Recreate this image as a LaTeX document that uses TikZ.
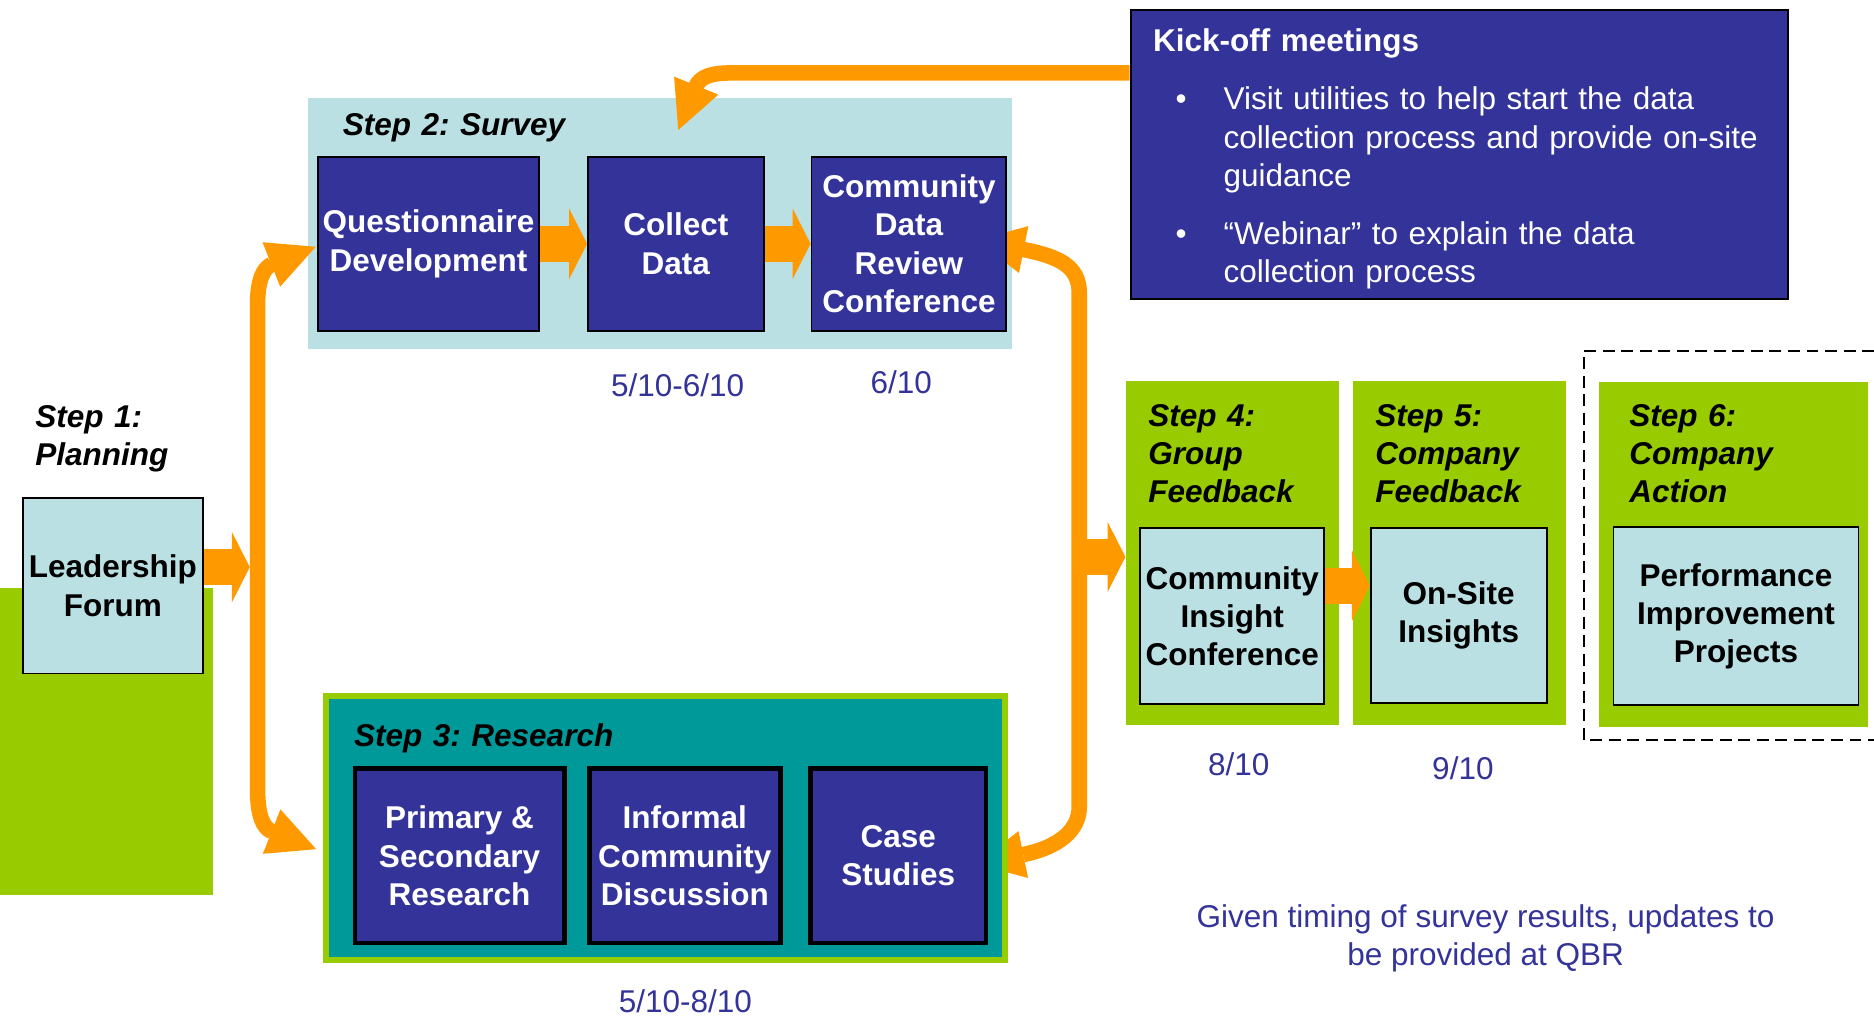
\documentclass[tikz,border=0pt]{standalone}
\usepackage{fontspec}
\setmainfont{Liberation Sans}
\usetikzlibrary{arrows.meta}
\definecolor{vnavy}{HTML}{333399}
\definecolor{vpale}{HTML}{BBE0E3}
\definecolor{vlime}{HTML}{99CC00}
\definecolor{vteal}{HTML}{009999}
\definecolor{vorange}{HTML}{FF9900}
\newcommand{\dfont}{\fontsize{15}{18.2}\selectfont}
\pgfdeclarelayer{back}
\pgfdeclarelayer{mid}
\pgfsetlayers{back,mid,main}
\tikzset{
  flowtip/.tip={Triangle[width=0.8cm,length=0.8cm,line width=0pt]},
  bigtip/.tip={Triangle[width=1.18cm,length=0.3cm,line width=0pt]},
  flow/.style={draw=vorange, line width=0.26cm},
  bigflow/.style={draw=vorange, line width=0.6cm, -bigtip},
  navybox/.style={draw=black, line width=0.9pt, fill=vnavy, text=white, font=\dfont\bfseries, align=center, inner sep=0pt},
  navythick/.style={navybox, line width=0.08cm},
  palebox/.style={draw=black, line width=0.9pt, fill=vpale, text=black, font=\dfont\bfseries, align=center, inner sep=0pt},
  stepbg/.style={fill=vlime, inner sep=0pt},
  steptitle/.style={font=\dfont\bfseries\itshape, text width=5cm, align=left, anchor=base west, inner sep=0pt},
  datelabel/.style={font=\dfont, text=vnavy, inner sep=0pt}
}
\begin{document}
\frenchspacing
\begin{tikzpicture}
	\useasboundingbox (0,0) rectangle (31.36,-17);
	\begin{pgfonlayer}{back}
		\fill[vlime] (0,-9.84) rectangle (3.56,-14.98);
		\node[fill=vpale, inner sep=0pt, minimum width=11.78cm, minimum height=4.2cm] (s2) at (11.05,-3.74) {};
		\node[stepbg, minimum width=3.56cm, minimum height=5.76cm] (s4) at (20.62,-9.26) {};
		\node[stepbg, minimum width=3.56cm, minimum height=5.76cm] (s5) at (24.42,-9.26) {};
		\node[stepbg, minimum width=4.5cm, minimum height=5.76cm] (s6) at (29.01,-9.28) {};
		\draw[black, line width=0.9pt, dash pattern=on 0.2cm off 0.11cm] (31.36,-5.88) -- (26.5,-5.88) -- (26.5,-12.38) -- (31.36,-12.38);
	\end{pgfonlayer}

	\node[steptitle] (s1t) at (0.586,-7.15) {Step 1:\\Planning};
	\node[palebox, minimum width=3.02cm, minimum height=2.94cm] (lf) at (1.89,-9.8) {Leadership\\Forum};

	\node[steptitle] (s2t) at (5.73,-2.26) {Step 2: Survey};
	\node[navybox, minimum width=3.7cm, minimum height=2.92cm] (qdev) at (7.17,-4.08) {Questionnaire\\Development};
	\node[navybox, minimum width=2.94cm, minimum height=2.92cm] (coll) at (11.31,-4.08) {Collect\\Data};
	\node[navybox, minimum width=3.26cm, minimum height=2.92cm] (cdrc) at (15.21,-4.08) {Community\\Data\\Review\\Conference};
	\node[datelabel] (d2a) at (11.34,-6.44) {5/10-6/10};
	\node[datelabel] (d2b) at (15.08,-6.4) {6/10};

	\node[navybox, minimum width=11cm, minimum height=4.84cm] (kick) at (24.42,-2.58) {};
	\node[font=\dfont, text=white, text width=10.6cm, align=left, anchor=base west, inner sep=0pt] (kickt) at (19.29,-0.864) {\textbf{Kick-off meetings}\\[0.336cm]
		\hspace*{0.377cm}\makebox[0.803cm][l]{\textbullet}Visit utilities to help start the data\\
		\hspace*{1.18cm}collection process and provide on-site\\
		\hspace*{1.18cm}guidance\\[0.336cm]
		\hspace*{0.377cm}\makebox[0.803cm][l]{\textbullet}“Webinar” to explain the data\\
		\hspace*{1.18cm}collection process};

	\node[draw=vlime, line width=0.1cm, fill=vteal, inner sep=0pt, minimum width=11.36cm, minimum height=4.42cm] (s3) at (11.13,-13.86) {};
	\node[steptitle] (s3t) at (5.92,-12.5) {Step 3: Research};
	\node[navythick, minimum width=3.5cm, minimum height=2.92cm] (prim) at (7.69,-14.32) {Primary \&\\Secondary\\Research};
	\node[navythick, minimum width=3.2cm, minimum height=2.92cm] (inf) at (11.46,-14.32) {Informal\\Community\\Discussion};
	\node[navythick, minimum width=2.94cm, minimum height=2.92cm] (case) at (15.03,-14.32) {Case\\Studies};
	\node[datelabel] (d3) at (11.47,-16.75) {5/10-8/10};

	\node[steptitle] (s4t) at (19.21,-7.13) {Step 4:\\Group\\Feedback};
	\node[steptitle] (s5t) at (23.01,-7.13) {Step 5:\\Company\\Feedback};
	\node[steptitle] (s6t) at (27.26,-7.13) {Step 6:\\Company\\Action};
	\node[palebox, minimum width=3.08cm, minimum height=2.94cm] (cic) at (20.62,-10.31) {Community\\Insight\\Conference};
	\node[palebox, minimum width=2.94cm, minimum height=2.92cm] (osi) at (24.41,-10.3) {On-Site\\Insights};
	\node[palebox, minimum width=4.1cm, minimum height=2.98cm] (pip) at (29.05,-10.31) {Performance\\Improvement\\Projects};
	\node[datelabel] (d4) at (20.73,-12.79) {8/10};
	\node[datelabel] (d5) at (24.48,-12.85) {9/10};
	\node[datelabel, align=center] (qbr) at (24.86,-15.7) {Given timing of survey results, updates to\\be provided at QBR};

	\coordinate (lline) at (4.18,-5.1);
	\coordinate (ltop) at (4.31,-5.1);
	\coordinate (lbot) at (4.31,-13.2);
	\coordinate (rtop) at (18.06,-4.9);
	\coordinate (rbot) at (18.06,-13.5);

	\begin{pgfonlayer}{mid}
		\draw[flow, flowtip-flowtip] ([shift={(-0.02,-0.05)}]qdev.west) -- (4.546,-4.423) .. controls (4.40,-4.49) and (4.31,-4.7) .. (ltop) -- (lbot) .. controls (4.31,-13.65) and (4.40,-13.85) .. (4.552,-13.918) -- ([shift={(-0.11,-0.35)}]s3.west);
		\draw[flow, flowtip-flowtip] ([shift={(-0.51,0.06)}]cdrc.east) -- (17.118,-4.174) .. controls (17.71,-4.29) and (18.06,-4.45) .. (rtop) -- (rbot) .. controls (18.06,-13.9) and (17.71,-14.18) .. (17.124,-14.30) -- ([shift={(-0.52,-0.6)}]s3.east);
		\draw[flow, -flowtip] ([yshift=1.36cm]kick.west) -- (12.25,-1.22) .. controls (11.9,-1.22) and (11.72,-1.28) .. (11.646,-1.446) -- ([shift={(0.04,0.43)}]coll.north);
		\draw[bigflow] ([yshift=0.31cm]lf.east) -- ([yshift=0.31cm]lf.east -| lline);
		\draw[bigflow] (qdev.east) -- (coll.west);
		\draw[bigflow] (coll.east) -- (cdrc.west);
		\draw[bigflow] ([yshift=-0.06cm]s4.west -| rtop) -- ([yshift=-0.06cm]s4.west);
		\draw[bigflow] ([yshift=0.51cm]cic.east) -- ([yshift=0.51cm]cic.east -| osi.west);
	\end{pgfonlayer}
\end{tikzpicture}
\end{document}
